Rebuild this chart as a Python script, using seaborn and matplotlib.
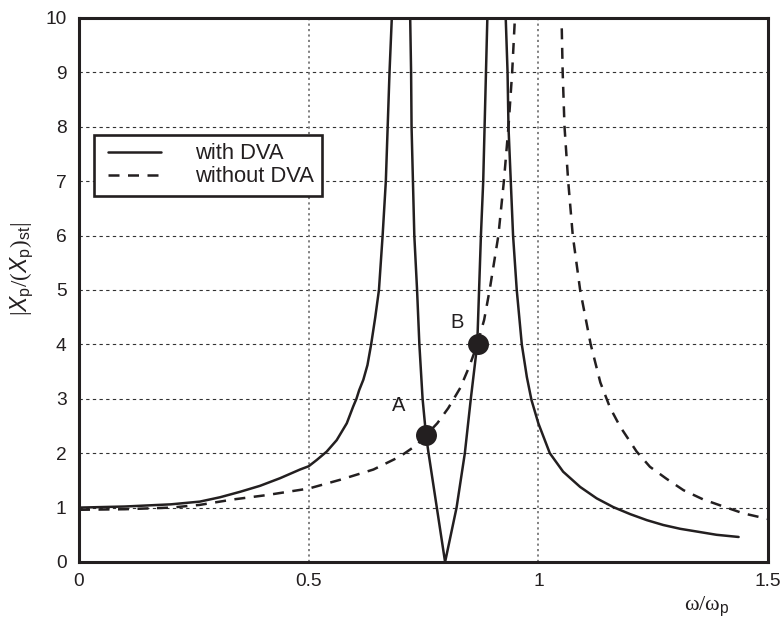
import matplotlib
matplotlib.use("Agg")
import matplotlib.pyplot as plt
import seaborn as sns
import pandas as pd
from matplotlib.lines import Line2D
from matplotlib.legend_handler import HandlerLine2D

# ---- data ----
# "with DVA" (solid), three branches separated by the two resonances
with_x1 = [0.0, 0.1, 0.2, 0.263, 0.307, 0.3505, 0.394, 0.4376, 0.4812, 0.5, 0.5175,
           0.5393, 0.561, 0.583, 0.597, 0.604, 0.61, 0.619, 0.628, 0.636, 0.645,
           0.653, 0.661, 0.668, 0.672, 0.676, 0.681]
with_y1 = [1.0, 1.02, 1.06, 1.11, 1.19, 1.29, 1.40, 1.54, 1.70, 1.76, 1.875,
           2.03, 2.24, 2.55, 2.86, 3.0, 3.16, 3.35, 3.62, 4.0, 4.5,
           5.0, 6.0, 7.0, 8.0, 9.0, 10.0]
with_x2 = [0.721, 0.723, 0.724, 0.727, 0.730, 0.736, 0.741, 0.748, 0.7555, 0.761,
           0.779, 0.797, 0.822, 0.840, 0.853, 0.867, 0.871, 0.875, 0.880, 0.883,
           0.886, 0.889]
with_y2 = [10.0, 9.0, 8.0, 7.0, 6.0, 5.0, 4.0, 3.0, 2.33, 2.0,
           1.0, 0.0, 1.0, 2.0, 3.0, 4.0, 5.0, 6.0, 7.0, 8.0,
           9.0, 10.0]
with_x3 = [0.929, 0.933, 0.935, 0.940, 0.945, 0.953, 0.964, 0.975, 0.985, 1.0,
           1.025, 1.054, 1.091, 1.127, 1.163, 1.200, 1.236, 1.272, 1.309, 1.345,
           1.388, 1.436]
with_y3 = [10.0, 9.0, 8.0, 7.0, 6.0, 5.0, 4.0, 3.4, 2.98, 2.55,
           2.0, 1.66, 1.38, 1.17, 1.01, 0.88, 0.77, 0.68, 0.61, 0.56,
           0.50, 0.46]

# "without DVA" (dashed), two branches around the resonance at 1
without_x1 = [0.0, 0.1, 0.2, 0.263, 0.336, 0.4087, 0.5, 0.568, 0.641, 0.699, 0.735,
              0.7555, 0.78, 0.804, 0.83, 0.85, 0.867, 0.882, 0.894, 0.913, 0.925,
              0.935, 0.943, 0.949]
without_y1 = [0.96, 0.97, 1.0, 1.05, 1.15, 1.23, 1.35, 1.51, 1.70, 1.94, 2.15,
              2.33, 2.55, 2.83, 3.2, 3.6, 4.0, 4.45, 5.0, 6.0, 7.0,
              8.0, 9.0, 10.0]
without_x2 = [1.051, 1.053, 1.057, 1.065, 1.075, 1.091, 1.114, 1.135, 1.156, 1.178,
              1.214, 1.243, 1.279, 1.316, 1.359, 1.403, 1.446, 1.5]
without_y2 = [9.81, 9.0, 8.0, 7.0, 6.0, 5.0, 4.0, 3.3, 2.84, 2.49,
              2.03, 1.75, 1.53, 1.32, 1.15, 1.02, 0.895, 0.79]

# marked crossing points
point_labels = ["A", "B"]
point_x = [0.7555, 0.868]
point_y = [2.33, 4.0]

series_labels = ["with DVA", "without DVA"]
x_ticks = [0, 0.5, 1, 1.5]
x_tick_labels = ["0", "0.5", "1", "1.5"]
y_ticks = list(range(0, 11))

# ---- style ----
sns.set_style("white")
plt.rcParams["font.family"] = ["Liberation Sans", "DejaVu Sans"]
plt.rcParams["mathtext.fontset"] = "custom"
plt.rcParams["mathtext.rm"] = "Liberation Serif"
plt.rcParams["mathtext.it"] = "Liberation Sans:italic"
plt.rcParams["mathtext.sf"] = "Liberation Sans"

INK = "#231f20"
LW = 1.8
DASH = (0, (4.4, 3.4))

fig = plt.figure(figsize=(7.84, 6.18), dpi=100)
ax = fig.add_axes([79 / 784, 1 - 562 / 618, (768 - 79) / 784, (562 - 18) / 618])

segments = [
    (with_x1, with_y1, "-"), (with_x2, with_y2, "-"), (with_x3, with_y3, "-"),
    (without_x1, without_y1, DASH), (without_x2, without_y2, DASH),
]
for xs, ys, ls in segments:
    sns.lineplot(x=xs, y=ys, ax=ax, color=INK, linewidth=LW, linestyle=ls,
                 estimator=None, sort=False, legend=False, zorder=3)

pts = pd.DataFrame({"x": point_x, "y": point_y, "label": point_labels})
sns.scatterplot(data=pts, x="x", y="y", ax=ax, s=228, color=INK,
                edgecolor=INK, linewidth=0, zorder=5, legend=False)
label_offsets = [(-19.5, 21.5), (-15.0, 16.0)]
for lab, px, py, off in zip(point_labels, point_x, point_y, label_offsets):
    ax.annotate(lab, (px, py), xytext=off, textcoords="offset points",
                fontsize=14.5, color=INK, ha="center", va="center")

ax.set_xlim(0, 1.5)
ax.set_ylim(0, 10)
ax.set_xticks(x_ticks)
ax.set_xticklabels(x_tick_labels)
ax.set_yticks(y_ticks)
ax.tick_params(axis="both", length=0, labelsize=13.8, colors=INK)
ax.tick_params(axis="y", pad=9)
ax.tick_params(axis="x", pad=8)

# grid: horizontal fine dashes, vertical grey dots
for yv in y_ticks[1:-1]:
    ax.axhline(yv, color="#333333", linewidth=0.8, linestyle=(0, (3, 3)), zorder=1)
for xv in x_ticks[1:-1]:
    ax.axvline(xv, color="#777777", linewidth=1.3, linestyle=(0, (1.2, 1.8)), zorder=1)

for sp in ax.spines.values():
    sp.set_linewidth(2.2)
    sp.set_color(INK)

ax.set_ylabel(r"$|X_{\mathsf{p}}/(X_{\mathsf{p}})_{\mathsf{st}}|$", fontsize=16.5, color=INK)
ax.yaxis.set_label_coords(-0.062, 0.539)
ax.set_xlabel(r"$\mathrm{\omega}/\mathrm{\omega}_{\mathsf{p}}$", fontsize=16, color=INK)
ax.xaxis.set_label_coords(0.911, -0.06)

# legend
handles = [Line2D([], [], color=INK, linewidth=LW, linestyle="-"),
           Line2D([], [], color=INK, linewidth=LW, linestyle=DASH)]
leg = ax.legend(handles, series_labels, loc="upper left",
                bbox_to_anchor=(0.0218, 0.785), borderaxespad=0,
                fontsize=15.8, handlelength=2.68, handletextpad=1.55,
                borderpad=0.38, labelspacing=0.1, fancybox=False,
                framealpha=1, edgecolor=INK,
                handler_map={Line2D: HandlerLine2D(xpad=0.26)})
leg.get_frame().set_linewidth(1.9)
for t in leg.get_texts():
    t.set_color(INK)

fig.savefig("out.png", dpi=100)
